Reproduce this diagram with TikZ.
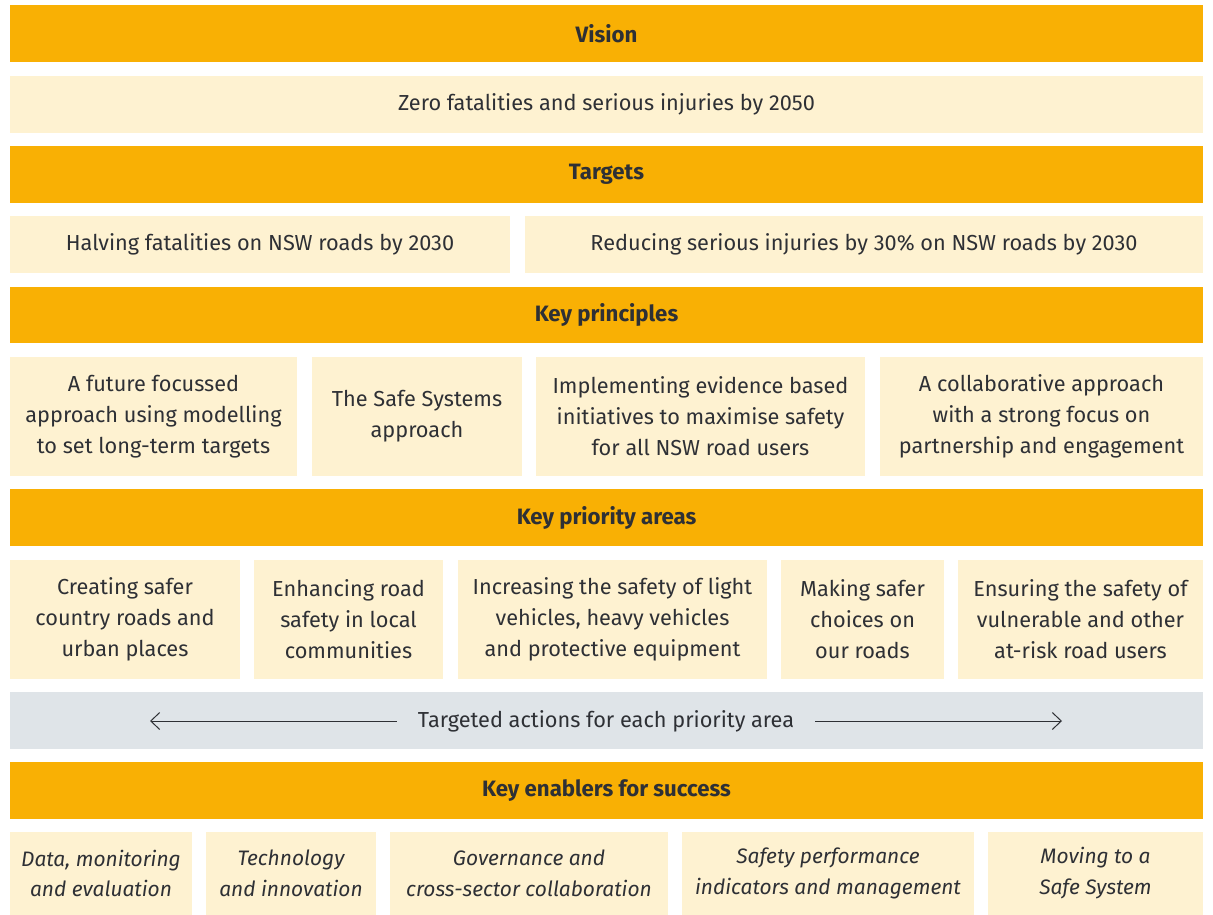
\documentclass[tikz,border=0pt]{standalone}
\usepackage{fontspec}
\setmainfont{Fira Sans}
\usetikzlibrary{arrows.meta}
\definecolor{orng}{HTML}{F9B004}
\definecolor{cream}{HTML}{FEF2D1}
\definecolor{grayb}{HTML}{DFE4E8}
\definecolor{txt}{HTML}{2E3035}
\begin{document}
\begin{tikzpicture}[x=1bp,y=-1bp,
 base/.style={inner sep=0pt, outer sep=0pt, align=center, text=txt, font=\fontsize{21.8}{31}\selectfont},
 hdr/.style={base, fill=orng, font=\fontsize{22.3}{31}\selectfont\bfseries},
 cell/.style={base, fill=cream},
 ecell/.style={base, fill=cream, font=\fontsize{21}{31}\selectfont\itshape},
 gbar/.style={base, fill=grayb},
 arr/.style={-{Straight Barb[length=9bp,width=17bp]}, line width=1bp, draw=txt}]
\useasboundingbox (0,0) rectangle (1213,915);
\newcommand\bx[7]{\node[#2, minimum width={(#5-#3)*1bp}, minimum height={(#6-#4)*1bp}] (#1) at ({(#3+#5)/2},{(#4+#6)/2}) {#7};}
% Vision
\bx{vis}{hdr}{10}{5}{1203}{62}{Vision}
\bx{visb}{cell}{10}{76}{1203}{133}{Zero fatalities and serious injuries by 2050}
% Targets
\bx{tar}{hdr}{10}{146}{1203}{203}{Targets}
\bx{tara}{cell}{10}{216}{510}{273}{Halving fatalities on NSW roads by 2030}
\bx{tarb}{cell}{525}{216}{1203}{273}{Reducing serious injuries by 30\% on NSW roads by 2030}
% Key principles
\bx{kp}{hdr}{10}{287}{1203}{343}{Key principles}
\bx{kpa}{cell}{10}{357}{297}{476}{A future focussed\\approach using modelling\\to set long-term targets}
\bx{kpb}{cell}{312}{357}{522}{476}{The Safe Systems\\approach}
\bx{kpc}{cell}{536}{357}{865}{476}{Implementing evidence based\\initiatives to maximise safety\\for all NSW road users}
\bx{kpd}{cell}{880}{357}{1203}{476}{A collaborative approach\\with a strong focus on\\partnership and engagement}
% Key priority areas
\bx{kpr}{hdr}{10}{489}{1203}{546}{Key priority areas}
\bx{pra}{cell}{10}{560}{240}{679}{Creating safer\\country roads and\\urban places}
\bx{prb}{cell}{254}{560}{443}{679}{Enhancing road\\safety in local\\communities}
\bx{prc}{cell}{458}{560}{767}{679}{Increasing the safety of light\\vehicles, heavy vehicles\\and protective equipment}
\bx{prd}{cell}{781}{560}{944}{679}{Making safer\\choices on\\our roads}
\bx{pre}{cell}{958}{560}{1203}{679}{Ensuring the safety of\\vulnerable and other\\at-risk road users}
% Targeted actions
\bx{act}{gbar}{10}{692}{1203}{749}{}
\node[base, inner xsep=21bp] (actl) at (606,721) {Targeted actions for each priority area};
\coordinate (lt) at (150,721);
\coordinate (rt) at (1062,721);
\draw[arr] (actl.west) -- (lt);
\draw[arr] (actl.east) -- (rt);
% Key enablers
\bx{ken}{hdr}{10}{762}{1203}{819}{Key enablers for success}
\bx{ena}{ecell}{10}{832}{192}{915}{Data, monitoring\\and evaluation}
\bx{enb}{ecell}{206}{832}{376}{915}{Technology\\and innovation}
\bx{enc}{ecell}{390}{832}{668}{915}{Governance and\\cross-sector collaboration}
\bx{end}{ecell}{682}{832}{974}{915}{Safety performance\\indicators and management}
\bx{ene}{ecell}{988}{832}{1203}{915}{Moving to a\\Safe System}
\end{tikzpicture}
\end{document}
